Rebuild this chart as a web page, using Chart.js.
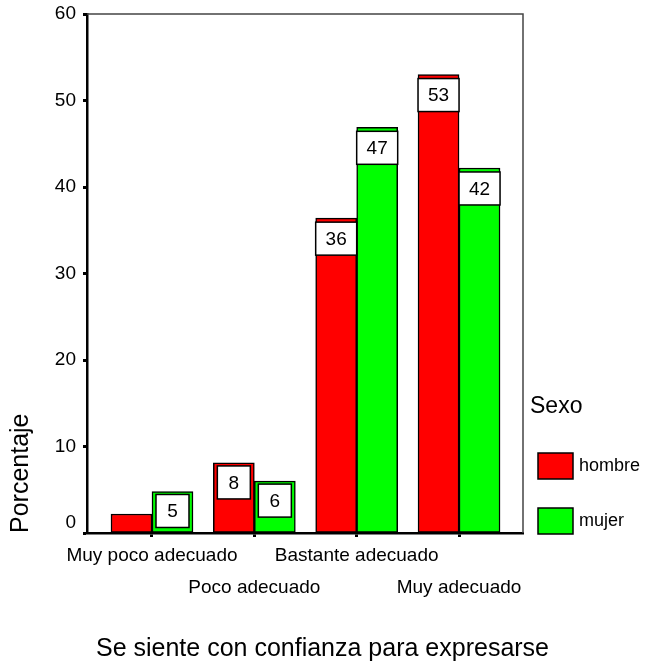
<!DOCTYPE html>
<html>
<head>
<meta charset="utf-8">
<script src="https://cdn.jsdelivr.net/npm/chart.js@4"></script>
<style>
  html, body { margin: 0; padding: 0; background: #fff; }
</style>
</head>
<body>
<canvas id="chart" width="645" height="668"></canvas>
<script>
// Data
var categories = ['Muy poco adecuado', 'Poco adecuado', 'Bastante adecuado', 'Muy adecuado'];
var hombre = [2.2, 8.1, 36.4, 53.0];
var mujer = [4.8, 6.0, 46.9, 42.2];
var yTicks = [0, 10, 20, 30, 40, 50, 60];
var seriesNames = ['hombre', 'mujer'];
var seriesColors = ['#ff0000', '#00ff00'];

var FONT = "'Liberation Sans', Arial, sans-serif";

var toPoints = function(values) {
    return values.map(function(v, i) {
        return {x: i, y: v};
    });
};

// Top and right border of the plot frame
var framePlugin = {
    id: 'frame',
    afterDraw: function(chart) {
        var a = chart.chartArea;
        var ctx = chart.ctx;
        ctx.save();
        ctx.strokeStyle = '#444';
        ctx.lineWidth = 1.5;
        ctx.beginPath();
        ctx.moveTo(a.left, a.top);
        ctx.lineTo(a.right, a.top);
        ctx.lineTo(a.right, a.bottom);
        ctx.stroke();
        ctx.restore();
    }
};

// White value boxes near the top of each bar
var valueBoxPlugin = {
    id: 'valueBoxes',
    afterDatasetsDraw: function(chart) {
        var ctx = chart.ctx;
        ctx.save();
        chart.data.datasets.forEach(function(ds, di) {
            chart.getDatasetMeta(di).data.forEach(function(bar, i) {
                var v = ds.data[i].y;
                if (v < 4) {
                    return;
                }
                var p = bar.getProps(['x', 'y', 'width'], true);
                var inset = v < 10 ? 4 : 0;
                var left = p.x - p.width / 2 + inset;
                var w = p.width - inset * 2;
                var top = p.y + (v < 10 ? 3 : 4);
                var h = 33;
                ctx.fillStyle = '#fff';
                ctx.fillRect(left, top, w, h);
                ctx.strokeStyle = '#000';
                ctx.lineWidth = 1.5;
                ctx.strokeRect(left, top, w, h);
                ctx.fillStyle = '#000';
                ctx.font = '19px ' + FONT;
                ctx.textAlign = 'center';
                ctx.textBaseline = 'middle';
                ctx.fillText(String(Math.round(v)), p.x, top + h / 2 + 1);
            });
        });
        ctx.restore();
    }
};

// Legend on the right, "Sexo" with two swatches
var legendPlugin = {
    id: 'sexLegend',
    afterDraw: function(chart) {
        var ctx = chart.ctx;
        ctx.save();
        ctx.fillStyle = '#000';
        ctx.textAlign = 'left';
        ctx.textBaseline = 'middle';
        ctx.font = '23px ' + FONT;
        ctx.fillText('Sexo', 530, 407);
        chart.data.datasets.forEach(function(ds, i) {
            var cy = 466 + i * 55;
            ctx.fillStyle = ds.backgroundColor;
            ctx.fillRect(538, cy - 13, 35, 26);
            ctx.strokeStyle = '#000';
            ctx.lineWidth = 1.5;
            ctx.strokeRect(538, cy - 13, 35, 26);
            ctx.fillStyle = '#000';
            ctx.font = '18px ' + FONT;
            ctx.fillText(ds.label, 579, cy);
        });
        ctx.restore();
    }
};

new Chart(document.getElementById('chart'), {
    type: 'bar',
    data: {
        datasets: [{
            label: seriesNames[0],
            data: toPoints(hombre),
            backgroundColor: seriesColors[0],
            borderColor: '#000',
            borderWidth: 1.5,
            borderSkipped: false,
            barThickness: 41
        }, {
            label: seriesNames[1],
            data: toPoints(mujer),
            backgroundColor: seriesColors[1],
            borderColor: '#000',
            borderWidth: 1.5,
            borderSkipped: false,
            barThickness: 41
        }]
    },
    options: {
        responsive: false,
        animation: false,
        layout: {
            padding: {top: 14, right: 0, left: 0, bottom: 0}
        },
        scales: {
            x: {
                type: 'linear',
                min: -0.635,
                max: 3.625,
                offset: false,
                afterBuildTicks: function(scale) {
                    scale.ticks = categories.map(function(c, i) {
                        return {value: i};
                    });
                },
                afterFit: function(scale) {
                    scale.height = 101;
                    scale.paddingLeft = 0;
                    scale.paddingRight = 0;
                },
                grid: {
                    offset: false,
                    drawOnChartArea: false,
                    tickLength: 4,
                    tickWidth: 3,
                    tickColor: '#000'
                },
                border: {color: '#000', width: 2.5},
                ticks: {
                    autoSkip: false,
                    maxRotation: 0,
                    padding: 3,
                    color: '#000',
                    font: {family: FONT, size: 19, lineHeight: 1.684},
                    callback: function(value) {
                        var label = categories[value];
                        return value % 2 === 0 ? label : ['', label];
                    }
                }
            },
            y: {
                min: 0,
                max: 60,
                afterBuildTicks: function(scale) {
                    scale.ticks = yTicks.map(function(v) {
                        return {value: v};
                    });
                },
                afterFit: function(scale) {
                    scale.width = 87;
                    scale.paddingTop = 0;
                    scale.paddingBottom = 0;
                },
                grid: {
                    drawOnChartArea: false,
                    tickLength: 4,
                    tickWidth: 3,
                    tickColor: '#000'
                },
                border: {color: '#000', width: 2.5},
                ticks: {
                    padding: 7,
                    color: '#000',
                    font: {family: FONT, size: 19, lineHeight: 1.05},
                    callback: function(value) {
                        return value === 0 ? ['0', ''] : String(value);
                    }
                },
                title: {
                    display: true,
                    text: 'Porcentaje',
                    align: 'start',
                    color: '#000',
                    font: {family: FONT, size: 25, lineHeight: 1.2},
                    padding: {top: 6, bottom: 0}
                }
            },
            // empty right axis that only reserves room for the legend
            y2: {
                position: 'right',
                afterFit: function(scale) {
                    scale.width = 122;
                    scale.paddingTop = 0;
                    scale.paddingBottom = 0;
                },
                grid: {display: false},
                border: {display: false},
                ticks: {display: false}
            }
        },
        plugins: {
            legend: {display: false},
            tooltip: {enabled: false},
            title: {
                display: true,
                position: 'bottom',
                text: 'Se siente con confianza para expresarse',
                color: '#000',
                font: {family: FONT, size: 25, weight: 'normal', lineHeight: 1.2},
                padding: {top: 0, bottom: 4}
            }
        }
    },
    plugins: [framePlugin, valueBoxPlugin, legendPlugin]
});
</script>
</body>
</html>
